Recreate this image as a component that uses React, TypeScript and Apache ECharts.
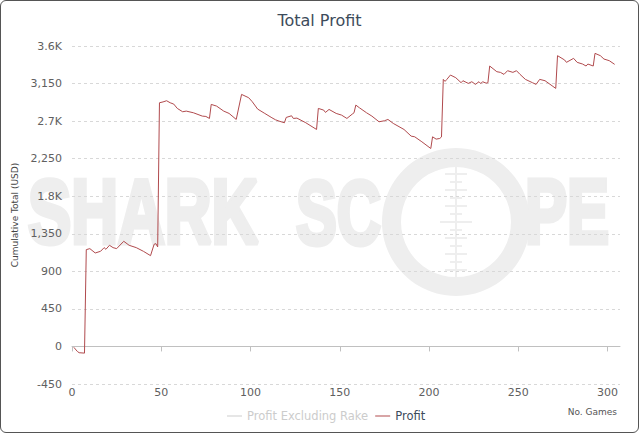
import React, { useEffect, useRef } from "react";
import * as echarts from "echarts";

const games = [1,3,4,7,8,10,13,16,18,19,21,23,25,29,32,36,40,44,46,47,48,49,51,53,55,57,59,62,64,68,73,75,77,78,81,85,88,92,95,99,101,104,108,112,114,116,119,120,123,124,126,131,137,138,141,142,144,148,151,154,157,158,159,161,165,168,172,175,177,180,186,190,192,196,201,202,204,206,207,208,209,210,212,215,218,219,222,224,226,228,229,230,232,233,234,238,240,242,244,247,249,251,254,258,260,262,265,271,272,276,277,281,283,286,288,289,292,293,296,298,301,304];
const profit = [-10,-60,-75,-80,1160,1172,1120,1140,1184,1164,1212,1184,1172,1260,1212,1184,1140,1088,1224,1232,1192,2920,2930,2944,2920,2904,2852,2812,2820,2800,2760,2756,2732,2900,2880,2820,2792,2720,3020,2980,2932,2844,2792,2740,2716,2700,2680,2744,2764,2732,2736,2680,2600,2852,2832,2804,2840,2792,2772,2732,2784,2800,2892,2860,2800,2760,2692,2704,2720,2672,2600,2520,2512,2452,2372,2512,2484,2492,2510,3200,3176,3200,3252,3220,3160,3184,3152,3172,3140,3172,3150,3172,3155,3160,3360,3292,3284,3260,3304,3284,3304,3260,3200,3160,3140,3200,3184,3092,3484,3432,3404,3452,3404,3384,3360,3384,3360,3512,3484,3444,3424,3380];
const profitExRake: number[] = [];
const xTicks = [0, 50, 100, 150, 200, 250, 300];
const seriesNames = ["Profit Excluding Rake", "Profit"];

const FONT = "DejaVu Sans";
const WM = "#eeeeee";

function fmtY(v: number): string {
  if (Math.abs(v) >= 1000 && v % 100 === 0) return v / 1000 + "K";
  return v.toLocaleString("en-US");
}

export default function App() {
  const ref = useRef<HTMLDivElement>(null);
  useEffect(() => {
    if (!ref.current) return;
    const chart = echarts.init(ref.current, undefined, { renderer: "svg" });
    const cx = 456, cy = 222;
    const ticks: any[] = [];
    for (let i = -7; i <= 7; i++) {
      const half = i === 0 ? 16 : i % 2 === 0 ? 11 : 6;
      ticks.push({
        type: "line",
        z: -10,
        shape: { x1: cx - half, y1: cy + i * 8, x2: cx + half, y2: cy + i * 8 },
        style: { stroke: WM, lineWidth: 2 },
        silent: true,
      });
    }
    const wmText = (text: string, x: number, sx: number) => ({
      type: "text",
      z: -10,
      silent: true,
      x,
      y: 212,
      scaleX: sx,
      style: {
        text,
        fontFamily: "Liberation Sans",
        fontWeight: "bold",
        fontSize: 90,
        fill: WM,
        stroke: WM,
        lineWidth: 5,
        textAlign: "left",
        textVerticalAlign: "middle",
      },
    });
    chart.setOption({
      animation: false,
      title: {
        text: "Total Profit",
        left: "center",
        top: 7,
        textStyle: { fontFamily: FONT, fontSize: 16, fontWeight: "normal", color: "#3d4b5b" },
      },
      graphic: [
        wmText("SHARK", 28, 0.72),
        wmText("SC", 296, 0.68),
        wmText("PE", 525, 0.7),
        { type: "ring", z: -10, silent: true, shape: { cx, cy, r: 74, r0: 55 }, style: { fill: WM } },
        { type: "line", z: -10, silent: true, shape: { x1: cx, y1: cy - 60, x2: cx, y2: cy + 60 }, style: { stroke: WM, lineWidth: 2 } },
        ...ticks,
        { type: "text", x: 617, y: 412, style: { text: "No. Games", fontFamily: FONT, fontSize: 9, fill: "#555", textAlign: "right", textVerticalAlign: "middle" } },
      ],
      legend: {
        left: 222,
        top: 405,
        itemGap: 7,
        itemWidth: 15,
        itemHeight: 1,
        icon: "rect",
        selected: { [seriesNames[0]]: false },
        inactiveColor: "#cccccc",
        textStyle: { fontFamily: FONT, fontSize: 11.5, color: "#3d4b5b" },
        data: seriesNames,
      },
      grid: { left: 72, right: 19, top: 46, bottom: 49, containLabel: false },
      xAxis: {
        type: "value",
        min: 0,
        max: 307,
        interval: 50,
        axisLine: { lineStyle: { color: "#c0c0c0" } },
        axisTick: { show: true, length: 5, lineStyle: { color: "#c0c0c0" }, customValues: xTicks },
        axisLabel: { fontFamily: FONT, fontSize: 11, color: "#606060", margin: 3, customValues: xTicks },
        splitLine: { show: false },
      },
      yAxis: {
        type: "value",
        min: -450,
        max: 3600,
        interval: 450,
        name: "Cumulative Total (USD)",
        nameLocation: "middle",
        nameRotate: 90,
        nameGap: 47,
        nameTextStyle: { fontFamily: FONT, fontSize: 9, color: "#444" },
        axisLine: { show: false },
        axisTick: { show: false },
        axisLabel: { fontFamily: FONT, fontSize: 11, color: "#606060", margin: 10, formatter: fmtY },
        splitLine: { lineStyle: { color: "#d8d8d8", type: [3, 3] } },
      },
      series: [
        {
          name: seriesNames[0],
          type: "line",
          showSymbol: false,
          data: profitExRake,
          itemStyle: { color: "#cccccc" },
          lineStyle: { width: 1, color: "#cccccc" },
        },
        {
          name: seriesNames[1],
          type: "line",
          showSymbol: false,
          data: games.map((g, i) => [g, profit[i]]),
          itemStyle: { color: "#b04a4d" },
          lineStyle: { width: 1, color: "#b04a4d" },
        },
      ],
    });
    return () => chart.dispose();
  }, []);
  return (
    <div style={{ position: "fixed", left: 0, top: 0, width: 639, height: 433, background: "#fff" }}>
      <div ref={ref} style={{ position: "absolute", left: 0, top: 0, width: 639, height: 433 }} />
      <div
        style={{
          position: "absolute",
          left: 0,
          top: 0,
          width: 639,
          height: 433,
          boxSizing: "border-box",
          border: "1.5px solid #555",
          borderRadius: 6,
          pointerEvents: "none",
        }}
      />
    </div>
  );
}
